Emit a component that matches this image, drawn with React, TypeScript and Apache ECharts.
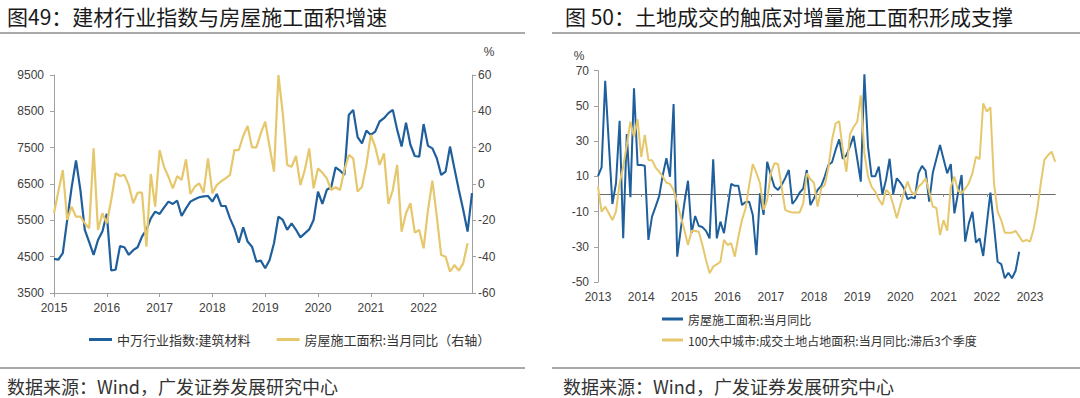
import React, { useEffect, useRef } from "react";
import * as echarts from "echarts";

function makeMonths(startYear: number, count: number): string[] {
  const out: string[] = [];
  for (let i = 0; i < count; i++) {
    const y = startYear + Math.floor(i / 12);
    const m = (i % 12) + 1;
    out.push(`${y}-${m < 10 ? "0" + m : m}`);
  }
  return out;
}

// Left chart: 2015-01 .. 2022-12
const leftCategories = makeMonths(2015, 96);
const leftIndex = [
  4440, 4420, 4600, 5510, 6400, 7150, 6330, 5240, 4900, 4550,
  4960, 5190, 5680, 4120, 4140, 4790, 4760, 4550, 4680, 4760,
  5050, 5240, 5555, 5740, 5675, 5850, 6015, 5950, 6040, 5620,
  5830, 6015, 6080, 6135, 6160, 6170, 6015, 6225, 5895, 5895,
  5555, 5280, 4885, 5310, 4915, 4775, 4365, 4390, 4180, 4410,
  4870, 5600, 5510, 5240, 5420, 5240, 5030, 5140, 5250, 5510,
  6290, 5950, 6340, 6410, 6960, 6870, 6750, 8400, 8540, 7790,
  7620, 7970, 7850, 7940, 8220, 8310, 8450, 8540, 7990, 7530,
  8190, 7580, 7270, 7250, 8150, 7550, 7480, 7210, 6750, 6840,
  7530, 6930, 6340, 5790, 5190, 6250,
];
const leftArea = [
  -16, -4, 7.7, -19.8, -12.5, -18, -18, -21.6, -24.4, 19.6,
  -25.3, -16.1, -21.6, -8.8, 5.9, 4.4, 5, -0.6, -10.6, -4.8,
  -4.8, -34.5, 5.5, -12.5, 18.7, 9.5, 4, -2.4, 4.4, 2.2,
  13.6, -5.5, -1.5, 0.4, -4.8, 14.1, -5.1, -0.6, 1.5, 3.1,
  5, 18.7, 18.7, 26.4, 31.9, 20.2, 20.2, 27.9, 34.3, 20.5,
  6.8, 60, 38.9, 10.5, 9.5, 15.4, -0.6, 7.7, 19.6, -2.4,
  8.6, 6.2, 3.1, -3.3, -1.8, -3.3, 7.7, 16, 14.1, -4.2,
  -1.5, 10.5, 27, 20.5, 10.5, 16.9, -11, -3.3, 10.5, -26.3,
  -16.1, -10.6, -26.8, -25.3, -35.4, -14.3, 1.8, -18, -39.1, -40,
  -48.3, -44.6, -47.7, -43.7, -32.6, null,
];

// Right chart: 2013-01 .. 2023-08
const rightCategories = makeMonths(2013, 128);
const rightArea = [
  10.2, 15.1, 64.3, 29, -5.7, 6.1, 41.6, -25.2, 34, -1.9,
  60, 16.4, 16.4, 16, -26.1, -12.9, -7.2, -1.2, 10.8, 20.3,
  9.8, 51.1, -35.6, -20, -5, 7.5, -22, -12.5, -18.2, -18.8,
  -21, -25.2, 19.7, -25.2, -15.7, -22.3, -8, 5.7, 4.6, 4.6,
  -6.3, -4.5, -4.4, -12, -34.7, 0.4, -11.9, 18.3, 10.8, 4.1,
  2.3, 5, 9, 13.6, -5.7, -3, 0.7, 3, 13.6, -6.3,
  -2.5, 2.3, 4.5, 10, 16.4, 18, 25, 31, 20, 22,
  27, 33, 20, 7, 68, 27, 10, 10, 15.5, -0.3,
  8, 20, 0, 8.9, 6.4, 3.2, -3, -1.9, -2.5, 11.7,
  15.9, 13.2, -4.4, 12, 20, 27.8, 19.7, 11.7, 17, -11,
  0.4, 10.8, -27.1, -16.7, -10.1, -27.7, -25.2, -35.2, -17, 0.7,
  -18.2, -38.5, -39.8, -47.9, -44.7, -47.9, -43.6, -32.8,
  null, null, null, null, null, null, null, null, null, null,
];
const rightLand = [
  4.1, -10.1, -7.2, -11, -14.8, -10, 6.1, 15.5, 27.8, 41,
  32.5, 42.4, 21, 33.5, 19.3, 19.2, 15, 12.6, 9.8, 6.4,
  5.7, 2.3, -5, -13, -20.5, -29, -20.9, -21, -21.5, -29,
  -37.5, -45, -41.3, -40, -38.5, -26.1, -29, -28, -35.6, -24.3,
  -14.8, -8.1, 5, 17, 12, 6.1, -9, -3.4, 11.7, 17.4,
  17, 4.1, -9, -10, -10.6, -10.6, -10.6, -5.3, 11.7, 8.3,
  6.4, -7.2, 3.2, 5.1, 15, 30.6, 40, 41.3, 25, 12.6,
  34, 38, 41, 56, 23, 10, 4.1, 1.3, -3, -6.3,
  2.3, 0.4, -6, -13.8, -6.3, 1, 7, 1.3, -0.6, 4.1,
  6, 8.9, 1.3, -7.2, -8, -23.3, -14.8, -20.9, 4.1, 9.8,
  1.9, 0.4, 3, 6.1, 11.7, 21.2, 19.7, 51.5, 46.7, 49.2,
  6.1, -10, -14.8, -22, -22, -22, -20.9, -24, -27.1, -26.1,
  -27.1, -20, -9, 6, 19.3, 22, 24, 18.3,
];

const leftTitle = "图49：建材行业指数与房屋施工面积增速";
const rightTitle = "图 50：土地成交的触底对增量施工面积形成支撑";
const sourceText = "数据来源：Wind，广发证券发展研究中心";
const seriesNames = [
  "中万行业指数:建筑材料",
  "房屋施工面积:当月同比（右轴）",
  "房屋施工面积:当月同比",
  "100大中城市:成交土地占地面积:当月同比:滞后3个季度",
];

const BLUE = "#1f5f9c";
const YELLOW = "#e6c76c";
const AXIS = "#a0a0a0";
const LABEL = "#404040";
const LATIN = "Liberation Sans, Arial, sans-serif";
const CJK = "Noto Sans CJK SC, sans-serif";

const isJan = (_i: number, v: string) => String(v).endsWith("-01");
const yearOf = (v: string) => String(v).slice(0, 4);
const plain = (v: number) => String(v);

export default function App() {
  const ref = useRef<HTMLDivElement>(null);
  useEffect(() => {
    if (!ref.current) return;
    const chart = echarts.init(ref.current, undefined, { renderer: "svg" });
    const axisLabel = { color: LABEL, fontSize: 12, fontFamily: LATIN };
    chart.setOption({
      animation: false,
      backgroundColor: "#ffffff",
      grid: [
        { left: 54, top: 75, width: 418, height: 218 },
        { left: 598, top: 70.7, width: 457.2, height: 211.3 },
      ],
      xAxis: [
        {
          gridIndex: 0,
          type: "category",
          data: leftCategories,
          boundaryGap: false,
          axisLine: { onZero: false, lineStyle: { color: AXIS, width: 1 } },
          axisTick: { interval: isJan, length: 4, lineStyle: { color: AXIS } },
          axisLabel: { ...axisLabel, interval: isJan, formatter: yearOf, margin: 9 },
          splitLine: { show: false },
        },
        {
          gridIndex: 1,
          type: "category",
          data: rightCategories,
          boundaryGap: false,
          position: "bottom",
          axisLine: { onZero: true, lineStyle: { color: "#6a6a6a", width: 1 } },
          axisTick: { interval: isJan, length: 3, lineStyle: { color: "#8a8a8a" } },
          axisLabel: { show: false },
          splitLine: { show: false },
        },
        {
          gridIndex: 1,
          type: "category",
          data: rightCategories,
          boundaryGap: false,
          position: "bottom",
          axisLine: { show: false, onZero: false },
          axisTick: { show: false },
          axisLabel: { ...axisLabel, interval: isJan, formatter: yearOf, margin: 9 },
          splitLine: { show: false },
        },
      ],
      yAxis: [
        {
          gridIndex: 0,
          type: "value",
          min: 3500,
          max: 9500,
          interval: 1000,
          axisLine: { show: true, lineStyle: { color: AXIS } },
          axisTick: { show: true, length: 4, lineStyle: { color: AXIS } },
          axisLabel: { ...axisLabel, margin: 10, formatter: plain },
          splitLine: { show: false },
        },
        {
          gridIndex: 0,
          type: "value",
          position: "right",
          min: -60,
          max: 60,
          interval: 20,
          axisLine: { show: true, lineStyle: { color: AXIS } },
          axisTick: { show: true, length: 4, lineStyle: { color: AXIS } },
          axisLabel: { ...axisLabel, margin: 6, formatter: plain },
          splitLine: { show: false },
        },
        {
          gridIndex: 1,
          type: "value",
          min: -50,
          max: 70,
          interval: 20,
          axisLine: { show: true, lineStyle: { color: AXIS } },
          axisTick: { show: true, length: 4, lineStyle: { color: AXIS } },
          axisLabel: { ...axisLabel, margin: 9, formatter: plain },
          splitLine: { show: false },
        },
      ],
      legend: [
        {
          data: [seriesNames[0], seriesNames[1]],
          left: 84,
          top: 328,
          orient: "horizontal",
          icon: "rect",
          itemWidth: 23,
          itemHeight: 3,
          itemGap: 26,
          textStyle: { fontSize: 13, color: "#333", fontFamily: CJK },
        },
        {
          data: [seriesNames[2], seriesNames[3]],
          left: 657,
          top: 308,
          orient: "vertical",
          icon: "rect",
          itemWidth: 21,
          itemHeight: 3,
          itemGap: 9,
          textStyle: { fontSize: 12, color: "#333", fontFamily: CJK },
        },
      ],
      series: [
        {
          name: seriesNames[0],
          type: "line",
          xAxisIndex: 0,
          yAxisIndex: 0,
          data: leftIndex,
          showSymbol: false,
          lineStyle: { color: BLUE, width: 2.2 },
          itemStyle: { color: BLUE },
        },
        {
          name: seriesNames[1],
          type: "line",
          xAxisIndex: 0,
          yAxisIndex: 1,
          data: leftArea,
          showSymbol: false,
          lineStyle: { color: YELLOW, width: 2.2 },
          itemStyle: { color: YELLOW },
        },
        {
          name: seriesNames[2],
          type: "line",
          xAxisIndex: 1,
          yAxisIndex: 2,
          data: rightArea,
          showSymbol: false,
          lineStyle: { color: BLUE, width: 2 },
          itemStyle: { color: BLUE },
        },
        {
          name: seriesNames[3],
          type: "line",
          xAxisIndex: 1,
          yAxisIndex: 2,
          data: rightLand,
          showSymbol: false,
          lineStyle: { color: YELLOW, width: 2 },
          itemStyle: { color: YELLOW },
        },
      ],
      graphic: [
        {
          type: "text",
          left: 7,
          top: 5,
          style: { text: leftTitle, fontSize: 21, fontFamily: CJK, fill: "#1a1a1a" },
        },
        {
          type: "text",
          left: 565,
          top: 5,
          style: { text: rightTitle, fontSize: 21, fontFamily: CJK, fill: "#1a1a1a" },
        },
        { type: "line", shape: { x1: 0, y1: 33, x2: 525, y2: 33 }, style: { stroke: "#555", lineWidth: 1 } },
        { type: "line", shape: { x1: 552, y1: 33, x2: 1080, y2: 33 }, style: { stroke: "#555", lineWidth: 1 } },
        { type: "line", shape: { x1: 0, y1: 368, x2: 525, y2: 368 }, style: { stroke: "#555", lineWidth: 1 } },
        { type: "line", shape: { x1: 552, y1: 368, x2: 1080, y2: 368 }, style: { stroke: "#555", lineWidth: 1 } },
        {
          type: "text",
          left: 7,
          top: 377,
          style: { text: sourceText, fontSize: 18, fontFamily: CJK, fill: "#333" },
        },
        {
          type: "text",
          left: 563,
          top: 377,
          style: { text: sourceText, fontSize: 18, fontFamily: CJK, fill: "#333" },
        },
        {
          type: "text",
          x: 489,
          y: 52,
          style: { text: "%", fontSize: 12, fontFamily: LATIN, fill: LABEL, align: "center", verticalAlign: "middle" },
        },
        {
          type: "text",
          x: 579,
          y: 55.5,
          style: { text: "%", fontSize: 12, fontFamily: LATIN, fill: LABEL, align: "center", verticalAlign: "middle" },
        },
      ],
    });
    return () => chart.dispose();
  }, []);
  return (
    <div
      ref={ref}
      style={{ position: "fixed", left: 0, top: 0, width: 1080, height: 398, background: "#fff" }}
    />
  );
}
